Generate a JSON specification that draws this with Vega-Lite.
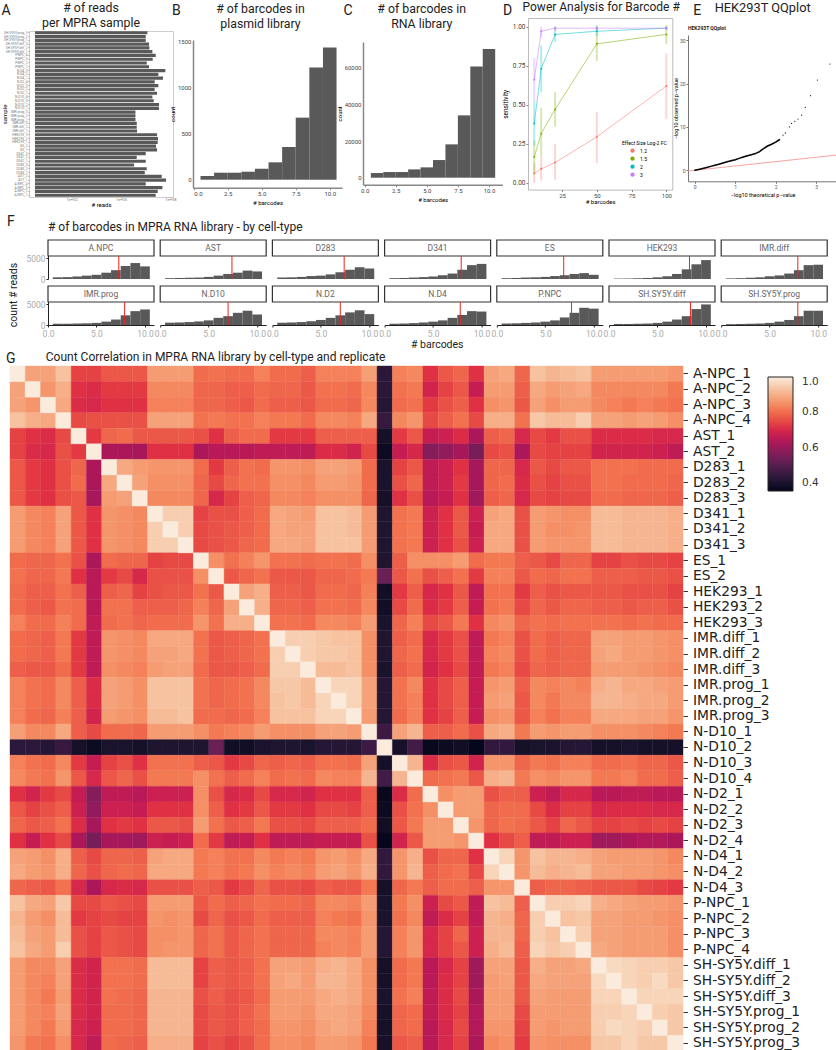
{"$schema":"https://vega.github.io/schema/vega-lite/v6.json","padding":0,"background":"white","spacing":0,"bounds":"flush",
"config":{"view":{"stroke":null},"font":"Roboto","title":{"font":"Roboto","fontWeight":"normal","fontSize":12.3,"color":"#222","lineHeight":15},"axis":{"labelFont":"Roboto","titleFont":"Roboto","titleFontWeight":"normal","grid":false}},
"datasets":{
"reads":[{"s":"SH.SY5Y.prog_3","r":4040000},{"s":"SH.SY5Y.prog_2","r":3200000},{"s":"SH.SY5Y.prog_1","r":3200000},{"s":"SH.SY5Y.diff_3","r":5090000},{"s":"SH.SY5Y.diff_2","r":5330000},{"s":"SH.SY5Y.diff_1","r":8100000},{"s":"P.NPC_4","r":12900000},{"s":"P.NPC_3","r":8500000},{"s":"P.NPC_2","r":3680000},{"s":"P.NPC_1","r":5090000},{"s":"N.D4_3","r":49800000},{"s":"N.D4_2","r":18700000},{"s":"N.D4_1","r":36000000},{"s":"N.D2_4","r":11200000},{"s":"N.D2_3","r":18700000},{"s":"N.D2_2","r":11200000},{"s":"N.D2_1","r":15600000},{"s":"N.D10_4","r":8100000},{"s":"N.D10_3","r":9800000},{"s":"N.D10_2","r":20600000},{"s":"N.D10_1","r":20600000},{"s":"IMR.prog_3","r":760000},{"s":"IMR.prog_2","r":760000},{"s":"IMR.prog_1","r":760000},{"s":"IMR.diff_3","r":910000},{"s":"IMR.diff_2","r":910000},{"s":"IMR.diff_1","r":950000},{"s":"HEK293_3","r":15600000},{"s":"HEK293_2","r":17900000},{"s":"HEK293_1","r":17100000},{"s":"ES_2","r":13500000},{"s":"ES_1","r":15600000},{"s":"D341_3","r":3200000},{"s":"D341_2","r":910000},{"s":"D341_1","r":3200000},{"s":"D283_3","r":630000},{"s":"D283_2","r":3680000},{"s":"D283_1","r":2800000},{"s":"AST_2","r":30000000},{"s":"AST_1","r":55000000},{"s":"A.NPC_4","r":3200000},{"s":"A.NPC_3","r":33000000},{"s":"A.NPC_2","r":17100000},{"s":"A.NPC_1","r":12900000}],
"power":[{"b":5,"g":"1.2","m":0.06,"l":0,"h":0.13},{"b":10,"g":"1.2","m":0.09,"l":0.015,"h":0.17},{"b":20,"g":"1.2","m":0.13,"l":0.02,"h":0.25},{"b":50,"g":"1.2","m":0.295,"l":0.125,"h":0.455},{"b":100,"g":"1.2","m":0.62,"l":0.41,"h":0.83},{"b":5,"g":"1.5","m":0.165,"l":0.06,"h":0.27},{"b":10,"g":"1.5","m":0.315,"l":0.17,"h":0.48},{"b":20,"g":"1.5","m":0.47,"l":0.36,"h":0.58},{"b":50,"g":"1.5","m":0.89,"l":0.78,"h":1.01},{"b":100,"g":"1.5","m":0.95,"l":0.89,"h":1.01},{"b":5,"g":"2","m":0.38,"l":0.24,"h":0.52},{"b":10,"g":"2","m":0.73,"l":0.58,"h":0.88},{"b":20,"g":"2","m":0.95,"l":0.9,"h":1},{"b":50,"g":"2","m":0.97,"l":0.94,"h":1},{"b":100,"g":"2","m":0.99,"l":0.98,"h":1},{"b":5,"g":"3","m":0.66,"l":0.52,"h":0.8},{"b":10,"g":"3","m":0.97,"l":0.93,"h":1},{"b":20,"g":"3","m":0.99,"l":0.97,"h":1},{"b":50,"g":"3","m":0.99,"l":0.98,"h":1},{"b":100,"g":"3","m":0.99,"l":0.98,"h":1}],
"qq":[{"x":0,"y":0},{"x":0.1,"y":0.2},{"x":0.2,"y":0.42},{"x":0.3,"y":0.65},{"x":0.4,"y":0.9},{"x":0.5,"y":1.15},{"x":0.6,"y":1.4},{"x":0.7,"y":1.7},{"x":0.8,"y":1.95},{"x":0.9,"y":2.2},{"x":1,"y":2.45},{"x":1.1,"y":2.75},{"x":1.2,"y":3.05},{"x":1.3,"y":3.35},{"x":1.4,"y":3.6},{"x":1.5,"y":3.85},{"x":1.6,"y":4.3},{"x":1.7,"y":5},{"x":1.8,"y":5.6},{"x":1.9,"y":6},{"x":2,"y":6.5},{"x":2.1,"y":7.1},{"x":2.18,"y":8.1},{"x":2.24,"y":8.6},{"x":2.34,"y":10},{"x":2.39,"y":10.8},{"x":2.47,"y":11.3},{"x":2.55,"y":11.8},{"x":2.64,"y":12.7},{"x":2.73,"y":14.5},{"x":2.86,"y":17.2},{"x":3.03,"y":20.8},{"x":3.34,"y":24.5}],
"heat":[{"a":0,"b":0,"v":1},{"a":0,"b":1,"v":0.88},{"a":0,"b":2,"v":0.88},{"a":0,"b":3,"v":0.93},{"a":0,"b":4,"v":0.74},{"a":0,"b":5,"v":0.74},{"a":0,"b":6,"v":0.77},{"a":0,"b":7,"v":0.77},{"a":0,"b":8,"v":0.77},{"a":0,"b":9,"v":0.87},{"a":0,"b":10,"v":0.87},{"a":0,"b":11,"v":0.87},{"a":0,"b":12,"v":0.8},{"a":0,"b":13,"v":0.81},{"a":0,"b":14,"v":0.8},{"a":0,"b":15,"v":0.8},{"a":0,"b":16,"v":0.83},{"a":0,"b":17,"v":0.8},{"a":0,"b":18,"v":0.8},{"a":0,"b":19,"v":0.78},{"a":0,"b":20,"v":0.83},{"a":0,"b":21,"v":0.83},{"a":0,"b":22,"v":0.83},{"a":0,"b":23,"v":0.875},{"a":0,"b":24,"v":0.43},{"a":0,"b":25,"v":0.83},{"a":0,"b":26,"v":0.84},{"a":0,"b":27,"v":0.72},{"a":0,"b":28,"v":0.77},{"a":0,"b":29,"v":0.79},{"a":0,"b":30,"v":0.72},{"a":0,"b":31,"v":0.88},{"a":0,"b":32,"v":0.89},{"a":0,"b":33,"v":0.79},{"a":0,"b":34,"v":0.93},{"a":0,"b":35,"v":0.91},{"a":0,"b":36,"v":0.92},{"a":0,"b":37,"v":0.93},{"a":0,"b":38,"v":0.87},{"a":0,"b":39,"v":0.87},{"a":0,"b":40,"v":0.87},{"a":0,"b":41,"v":0.87},{"a":0,"b":42,"v":0.87},{"a":0,"b":43,"v":0.86},
{"a":1,"b":1,"v":1},{"a":1,"b":2,"v":0.86},{"a":1,"b":3,"v":0.9},{"a":1,"b":4,"v":0.72},{"a":1,"b":5,"v":0.71},{"a":1,"b":6,"v":0.73},{"a":1,"b":7,"v":0.73},{"a":1,"b":8,"v":0.73},{"a":1,"b":9,"v":0.84},{"a":1,"b":10,"v":0.84},{"a":1,"b":11,"v":0.84},{"a":1,"b":12,"v":0.79},{"a":1,"b":13,"v":0.79},{"a":1,"b":14,"v":0.78},{"a":1,"b":15,"v":0.78},{"a":1,"b":16,"v":0.8},{"a":1,"b":17,"v":0.79},{"a":1,"b":18,"v":0.79},{"a":1,"b":19,"v":0.77},{"a":1,"b":20,"v":0.81},{"a":1,"b":21,"v":0.81},{"a":1,"b":22,"v":0.8},{"a":1,"b":23,"v":0.84},{"a":1,"b":24,"v":0.43},{"a":1,"b":25,"v":0.81},{"a":1,"b":26,"v":0.82},{"a":1,"b":27,"v":0.69},{"a":1,"b":28,"v":0.74},{"a":1,"b":29,"v":0.77},{"a":1,"b":30,"v":0.67},{"a":1,"b":31,"v":0.87},{"a":1,"b":32,"v":0.87},{"a":1,"b":33,"v":0.78},{"a":1,"b":34,"v":0.89},{"a":1,"b":35,"v":0.87},{"a":1,"b":36,"v":0.88},{"a":1,"b":37,"v":0.89},{"a":1,"b":38,"v":0.84},{"a":1,"b":39,"v":0.84},{"a":1,"b":40,"v":0.84},{"a":1,"b":41,"v":0.84},{"a":1,"b":42,"v":0.84},{"a":1,"b":43,"v":0.82},
{"a":2,"b":2,"v":1},{"a":2,"b":3,"v":0.89},{"a":2,"b":4,"v":0.71},{"a":2,"b":5,"v":0.7},{"a":2,"b":6,"v":0.72},{"a":2,"b":7,"v":0.72},{"a":2,"b":8,"v":0.72},{"a":2,"b":9,"v":0.83},{"a":2,"b":10,"v":0.83},{"a":2,"b":11,"v":0.83},{"a":2,"b":12,"v":0.79},{"a":2,"b":13,"v":0.79},{"a":2,"b":14,"v":0.78},{"a":2,"b":15,"v":0.77},{"a":2,"b":16,"v":0.8},{"a":2,"b":17,"v":0.78},{"a":2,"b":18,"v":0.78},{"a":2,"b":19,"v":0.77},{"a":2,"b":20,"v":0.8},{"a":2,"b":21,"v":0.8},{"a":2,"b":22,"v":0.79},{"a":2,"b":23,"v":0.84},{"a":2,"b":24,"v":0.42},{"a":2,"b":25,"v":0.8},{"a":2,"b":26,"v":0.81},{"a":2,"b":27,"v":0.73},{"a":2,"b":28,"v":0.76},{"a":2,"b":29,"v":0.78},{"a":2,"b":30,"v":0.72},{"a":2,"b":31,"v":0.85},{"a":2,"b":32,"v":0.86},{"a":2,"b":33,"v":0.77},{"a":2,"b":34,"v":0.88},{"a":2,"b":35,"v":0.85},{"a":2,"b":36,"v":0.87},{"a":2,"b":37,"v":0.87},{"a":2,"b":38,"v":0.84},{"a":2,"b":39,"v":0.83},{"a":2,"b":40,"v":0.82},{"a":2,"b":41,"v":0.83},{"a":2,"b":42,"v":0.82},{"a":2,"b":43,"v":0.81},
{"a":3,"b":3,"v":1},{"a":3,"b":4,"v":0.75},{"a":3,"b":5,"v":0.76},{"a":3,"b":6,"v":0.76},{"a":3,"b":7,"v":0.76},{"a":3,"b":8,"v":0.76},{"a":3,"b":9,"v":0.88},{"a":3,"b":10,"v":0.88},{"a":3,"b":11,"v":0.88},{"a":3,"b":12,"v":0.81},{"a":3,"b":13,"v":0.82},{"a":3,"b":14,"v":0.81},{"a":3,"b":15,"v":0.81},{"a":3,"b":16,"v":0.83},{"a":3,"b":17,"v":0.82},{"a":3,"b":18,"v":0.82},{"a":3,"b":19,"v":0.8},{"a":3,"b":20,"v":0.84},{"a":3,"b":21,"v":0.84},{"a":3,"b":22,"v":0.83},{"a":3,"b":23,"v":0.89},{"a":3,"b":24,"v":0.45},{"a":3,"b":25,"v":0.84},{"a":3,"b":26,"v":0.86},{"a":3,"b":27,"v":0.75},{"a":3,"b":28,"v":0.78},{"a":3,"b":29,"v":0.81},{"a":3,"b":30,"v":0.75},{"a":3,"b":31,"v":0.9},{"a":3,"b":32,"v":0.9},{"a":3,"b":33,"v":0.81},{"a":3,"b":34,"v":0.94},{"a":3,"b":35,"v":0.92},{"a":3,"b":36,"v":0.92},{"a":3,"b":37,"v":0.95},{"a":3,"b":38,"v":0.88},{"a":3,"b":39,"v":0.88},{"a":3,"b":40,"v":0.87},{"a":3,"b":41,"v":0.88},{"a":3,"b":42,"v":0.87},{"a":3,"b":43,"v":0.85},
{"a":4,"b":4,"v":1},{"a":4,"b":5,"v":0.73},{"a":4,"b":6,"v":0.79},{"a":4,"b":7,"v":0.8},{"a":4,"b":8,"v":0.77},{"a":4,"b":9,"v":0.77},{"a":4,"b":10,"v":0.77},{"a":4,"b":11,"v":0.77},{"a":4,"b":12,"v":0.76},{"a":4,"b":13,"v":0.72},{"a":4,"b":14,"v":0.78},{"a":4,"b":15,"v":0.8},{"a":4,"b":16,"v":0.8},{"a":4,"b":17,"v":0.73},{"a":4,"b":18,"v":0.73},{"a":4,"b":19,"v":0.73},{"a":4,"b":20,"v":0.78},{"a":4,"b":21,"v":0.78},{"a":4,"b":22,"v":0.78},{"a":4,"b":23,"v":0.78},{"a":4,"b":24,"v":0.39},{"a":4,"b":25,"v":0.73},{"a":4,"b":26,"v":0.77},{"a":4,"b":27,"v":0.67},{"a":4,"b":28,"v":0.68},{"a":4,"b":29,"v":0.71},{"a":4,"b":30,"v":0.63},{"a":4,"b":31,"v":0.78},{"a":4,"b":32,"v":0.79},{"a":4,"b":33,"v":0.7},{"a":4,"b":34,"v":0.75},{"a":4,"b":35,"v":0.73},{"a":4,"b":36,"v":0.76},{"a":4,"b":37,"v":0.76},{"a":4,"b":38,"v":0.71},{"a":4,"b":39,"v":0.71},{"a":4,"b":40,"v":0.71},{"a":4,"b":41,"v":0.71},{"a":4,"b":42,"v":0.7},{"a":4,"b":43,"v":0.7},
{"a":5,"b":5,"v":1},{"a":5,"b":6,"v":0.63},{"a":5,"b":7,"v":0.63},{"a":5,"b":8,"v":0.62},{"a":5,"b":9,"v":0.72},{"a":5,"b":10,"v":0.72},{"a":5,"b":11,"v":0.72},{"a":5,"b":12,"v":0.63},{"a":5,"b":13,"v":0.65},{"a":5,"b":14,"v":0.65},{"a":5,"b":15,"v":0.65},{"a":5,"b":16,"v":0.66},{"a":5,"b":17,"v":0.66},{"a":5,"b":18,"v":0.66},{"a":5,"b":19,"v":0.66},{"a":5,"b":20,"v":0.71},{"a":5,"b":21,"v":0.71},{"a":5,"b":22,"v":0.69},{"a":5,"b":23,"v":0.75},{"a":5,"b":24,"v":0.37},{"a":5,"b":25,"v":0.67},{"a":5,"b":26,"v":0.7},{"a":5,"b":27,"v":0.57},{"a":5,"b":28,"v":0.59},{"a":5,"b":29,"v":0.62},{"a":5,"b":30,"v":0.55},{"a":5,"b":31,"v":0.75},{"a":5,"b":32,"v":0.76},{"a":5,"b":33,"v":0.63},{"a":5,"b":34,"v":0.75},{"a":5,"b":35,"v":0.74},{"a":5,"b":36,"v":0.74},{"a":5,"b":37,"v":0.74},{"a":5,"b":38,"v":0.69},{"a":5,"b":39,"v":0.69},{"a":5,"b":40,"v":0.69},{"a":5,"b":41,"v":0.69},{"a":5,"b":42,"v":0.68},{"a":5,"b":43,"v":0.66},
{"a":6,"b":6,"v":1},{"a":6,"b":7,"v":0.89},{"a":6,"b":8,"v":0.87},{"a":6,"b":9,"v":0.86},{"a":6,"b":10,"v":0.86},{"a":6,"b":11,"v":0.86},{"a":6,"b":12,"v":0.8},{"a":6,"b":13,"v":0.73},{"a":6,"b":14,"v":0.78},{"a":6,"b":15,"v":0.81},{"a":6,"b":16,"v":0.8},{"a":6,"b":17,"v":0.86},{"a":6,"b":18,"v":0.86},{"a":6,"b":19,"v":0.85},{"a":6,"b":20,"v":0.88},{"a":6,"b":21,"v":0.88},{"a":6,"b":22,"v":0.87},{"a":6,"b":23,"v":0.8},{"a":6,"b":24,"v":0.4},{"a":6,"b":25,"v":0.74},{"a":6,"b":26,"v":0.77},{"a":6,"b":27,"v":0.66},{"a":6,"b":28,"v":0.68},{"a":6,"b":29,"v":0.72},{"a":6,"b":30,"v":0.62},{"a":6,"b":31,"v":0.79},{"a":6,"b":32,"v":0.79},{"a":6,"b":33,"v":0.7},{"a":6,"b":34,"v":0.77},{"a":6,"b":35,"v":0.75},{"a":6,"b":36,"v":0.77},{"a":6,"b":37,"v":0.77},{"a":6,"b":38,"v":0.81},{"a":6,"b":39,"v":0.81},{"a":6,"b":40,"v":0.81},{"a":6,"b":41,"v":0.8},{"a":6,"b":42,"v":0.8},{"a":6,"b":43,"v":0.8},
{"a":7,"b":7,"v":1},{"a":7,"b":8,"v":0.88},{"a":7,"b":9,"v":0.85},{"a":7,"b":10,"v":0.85},{"a":7,"b":11,"v":0.85},{"a":7,"b":12,"v":0.79},{"a":7,"b":13,"v":0.75},{"a":7,"b":14,"v":0.79},{"a":7,"b":15,"v":0.81},{"a":7,"b":16,"v":0.81},{"a":7,"b":17,"v":0.85},{"a":7,"b":18,"v":0.85},{"a":7,"b":19,"v":0.84},{"a":7,"b":20,"v":0.87},{"a":7,"b":21,"v":0.87},{"a":7,"b":22,"v":0.86},{"a":7,"b":23,"v":0.8},{"a":7,"b":24,"v":0.4},{"a":7,"b":25,"v":0.76},{"a":7,"b":26,"v":0.79},{"a":7,"b":27,"v":0.66},{"a":7,"b":28,"v":0.68},{"a":7,"b":29,"v":0.73},{"a":7,"b":30,"v":0.62},{"a":7,"b":31,"v":0.79},{"a":7,"b":32,"v":0.8},{"a":7,"b":33,"v":0.71},{"a":7,"b":34,"v":0.76},{"a":7,"b":35,"v":0.74},{"a":7,"b":36,"v":0.76},{"a":7,"b":37,"v":0.76},{"a":7,"b":38,"v":0.81},{"a":7,"b":39,"v":0.81},{"a":7,"b":40,"v":0.8},{"a":7,"b":41,"v":0.8},{"a":7,"b":42,"v":0.8},{"a":7,"b":43,"v":0.79},
{"a":8,"b":8,"v":1},{"a":8,"b":9,"v":0.84},{"a":8,"b":10,"v":0.84},{"a":8,"b":11,"v":0.84},{"a":8,"b":12,"v":0.79},{"a":8,"b":13,"v":0.7},{"a":8,"b":14,"v":0.74},{"a":8,"b":15,"v":0.78},{"a":8,"b":16,"v":0.79},{"a":8,"b":17,"v":0.84},{"a":8,"b":18,"v":0.84},{"a":8,"b":19,"v":0.83},{"a":8,"b":20,"v":0.85},{"a":8,"b":21,"v":0.85},{"a":8,"b":22,"v":0.85},{"a":8,"b":23,"v":0.79},{"a":8,"b":24,"v":0.39},{"a":8,"b":25,"v":0.72},{"a":8,"b":26,"v":0.76},{"a":8,"b":27,"v":0.65},{"a":8,"b":28,"v":0.67},{"a":8,"b":29,"v":0.72},{"a":8,"b":30,"v":0.61},{"a":8,"b":31,"v":0.78},{"a":8,"b":32,"v":0.79},{"a":8,"b":33,"v":0.7},{"a":8,"b":34,"v":0.75},{"a":8,"b":35,"v":0.74},{"a":8,"b":36,"v":0.75},{"a":8,"b":37,"v":0.75},{"a":8,"b":38,"v":0.8},{"a":8,"b":39,"v":0.8},{"a":8,"b":40,"v":0.79},{"a":8,"b":41,"v":0.79},{"a":8,"b":42,"v":0.79},{"a":8,"b":43,"v":0.78},
{"a":9,"b":9,"v":1},{"a":9,"b":10,"v":0.95},{"a":9,"b":11,"v":0.95},{"a":9,"b":12,"v":0.74},{"a":9,"b":13,"v":0.76},{"a":9,"b":14,"v":0.76},{"a":9,"b":15,"v":0.78},{"a":9,"b":16,"v":0.8},{"a":9,"b":17,"v":0.89},{"a":9,"b":18,"v":0.88},{"a":9,"b":19,"v":0.87},{"a":9,"b":20,"v":0.93},{"a":9,"b":21,"v":0.93},{"a":9,"b":22,"v":0.92},{"a":9,"b":23,"v":0.87},{"a":9,"b":24,"v":0.41},{"a":9,"b":25,"v":0.81},{"a":9,"b":26,"v":0.82},{"a":9,"b":27,"v":0.68},{"a":9,"b":28,"v":0.72},{"a":9,"b":29,"v":0.77},{"a":9,"b":30,"v":0.68},{"a":9,"b":31,"v":0.88},{"a":9,"b":32,"v":0.89},{"a":9,"b":33,"v":0.76},{"a":9,"b":34,"v":0.87},{"a":9,"b":35,"v":0.86},{"a":9,"b":36,"v":0.85},{"a":9,"b":37,"v":0.85},{"a":9,"b":38,"v":0.92},{"a":9,"b":39,"v":0.92},{"a":9,"b":40,"v":0.91},{"a":9,"b":41,"v":0.91},{"a":9,"b":42,"v":0.91},{"a":9,"b":43,"v":0.9},
{"a":10,"b":10,"v":1},{"a":10,"b":11,"v":0.95},{"a":10,"b":12,"v":0.75},{"a":10,"b":13,"v":0.76},{"a":10,"b":14,"v":0.77},{"a":10,"b":15,"v":0.78},{"a":10,"b":16,"v":0.8},{"a":10,"b":17,"v":0.89},{"a":10,"b":18,"v":0.88},{"a":10,"b":19,"v":0.88},{"a":10,"b":20,"v":0.93},{"a":10,"b":21,"v":0.93},{"a":10,"b":22,"v":0.92},{"a":10,"b":23,"v":0.87},{"a":10,"b":24,"v":0.41},{"a":10,"b":25,"v":0.81},{"a":10,"b":26,"v":0.82},{"a":10,"b":27,"v":0.68},{"a":10,"b":28,"v":0.72},{"a":10,"b":29,"v":0.77},{"a":10,"b":30,"v":0.67},{"a":10,"b":31,"v":0.89},{"a":10,"b":32,"v":0.89},{"a":10,"b":33,"v":0.76},{"a":10,"b":34,"v":0.87},{"a":10,"b":35,"v":0.85},{"a":10,"b":36,"v":0.85},{"a":10,"b":37,"v":0.86},{"a":10,"b":38,"v":0.92},{"a":10,"b":39,"v":0.92},{"a":10,"b":40,"v":0.91},{"a":10,"b":41,"v":0.91},{"a":10,"b":42,"v":0.91},{"a":10,"b":43,"v":0.9},
{"a":11,"b":11,"v":1},{"a":11,"b":12,"v":0.75},{"a":11,"b":13,"v":0.76},{"a":11,"b":14,"v":0.77},{"a":11,"b":15,"v":0.79},{"a":11,"b":16,"v":0.8},{"a":11,"b":17,"v":0.89},{"a":11,"b":18,"v":0.89},{"a":11,"b":19,"v":0.88},{"a":11,"b":20,"v":0.93},{"a":11,"b":21,"v":0.93},{"a":11,"b":22,"v":0.93},{"a":11,"b":23,"v":0.87},{"a":11,"b":24,"v":0.41},{"a":11,"b":25,"v":0.81},{"a":11,"b":26,"v":0.82},{"a":11,"b":27,"v":0.68},{"a":11,"b":28,"v":0.72},{"a":11,"b":29,"v":0.76},{"a":11,"b":30,"v":0.68},{"a":11,"b":31,"v":0.89},{"a":11,"b":32,"v":0.89},{"a":11,"b":33,"v":0.76},{"a":11,"b":34,"v":0.87},{"a":11,"b":35,"v":0.86},{"a":11,"b":36,"v":0.86},{"a":11,"b":37,"v":0.86},{"a":11,"b":38,"v":0.92},{"a":11,"b":39,"v":0.92},{"a":11,"b":40,"v":0.91},{"a":11,"b":41,"v":0.91},{"a":11,"b":42,"v":0.91},{"a":11,"b":43,"v":0.9},
{"a":12,"b":12,"v":1},{"a":12,"b":13,"v":0.85},{"a":12,"b":14,"v":0.81},{"a":12,"b":15,"v":0.83},{"a":12,"b":16,"v":0.86},{"a":12,"b":17,"v":0.81},{"a":12,"b":18,"v":0.81},{"a":12,"b":19,"v":0.8},{"a":12,"b":20,"v":0.81},{"a":12,"b":21,"v":0.81},{"a":12,"b":22,"v":0.8},{"a":12,"b":23,"v":0.85},{"a":12,"b":24,"v":0.41},{"a":12,"b":25,"v":0.78},{"a":12,"b":26,"v":0.85},{"a":12,"b":27,"v":0.85},{"a":12,"b":28,"v":0.85},{"a":12,"b":29,"v":0.87},{"a":12,"b":30,"v":0.8},{"a":12,"b":31,"v":0.82},{"a":12,"b":32,"v":0.82},{"a":12,"b":33,"v":0.78},{"a":12,"b":34,"v":0.77},{"a":12,"b":35,"v":0.75},{"a":12,"b":36,"v":0.79},{"a":12,"b":37,"v":0.79},{"a":12,"b":38,"v":0.74},{"a":12,"b":39,"v":0.74},{"a":12,"b":40,"v":0.76},{"a":12,"b":41,"v":0.75},{"a":12,"b":42,"v":0.75},{"a":12,"b":43,"v":0.74},
{"a":13,"b":13,"v":1},{"a":13,"b":14,"v":0.77},{"a":13,"b":15,"v":0.79},{"a":13,"b":16,"v":0.81},{"a":13,"b":17,"v":0.77},{"a":13,"b":18,"v":0.77},{"a":13,"b":19,"v":0.77},{"a":13,"b":20,"v":0.79},{"a":13,"b":21,"v":0.79},{"a":13,"b":22,"v":0.8},{"a":13,"b":23,"v":0.82},{"a":13,"b":24,"v":0.53},{"a":13,"b":25,"v":0.77},{"a":13,"b":26,"v":0.81},{"a":13,"b":27,"v":0.76},{"a":13,"b":28,"v":0.78},{"a":13,"b":29,"v":0.81},{"a":13,"b":30,"v":0.73},{"a":13,"b":31,"v":0.83},{"a":13,"b":32,"v":0.83},{"a":13,"b":33,"v":0.77},{"a":13,"b":34,"v":0.8},{"a":13,"b":35,"v":0.79},{"a":13,"b":36,"v":0.81},{"a":13,"b":37,"v":0.81},{"a":13,"b":38,"v":0.78},{"a":13,"b":39,"v":0.78},{"a":13,"b":40,"v":0.78},{"a":13,"b":41,"v":0.77},{"a":13,"b":42,"v":0.77},{"a":13,"b":43,"v":0.76},
{"a":14,"b":14,"v":1},{"a":14,"b":15,"v":0.88},{"a":14,"b":16,"v":0.9},{"a":14,"b":17,"v":0.78},{"a":14,"b":18,"v":0.78},{"a":14,"b":19,"v":0.77},{"a":14,"b":20,"v":0.8},{"a":14,"b":21,"v":0.8},{"a":14,"b":22,"v":0.79},{"a":14,"b":23,"v":0.83},{"a":14,"b":24,"v":0.38},{"a":14,"b":25,"v":0.73},{"a":14,"b":26,"v":0.78},{"a":14,"b":27,"v":0.7},{"a":14,"b":28,"v":0.72},{"a":14,"b":29,"v":0.77},{"a":14,"b":30,"v":0.66},{"a":14,"b":31,"v":0.81},{"a":14,"b":32,"v":0.81},{"a":14,"b":33,"v":0.73},{"a":14,"b":34,"v":0.78},{"a":14,"b":35,"v":0.76},{"a":14,"b":36,"v":0.77},{"a":14,"b":37,"v":0.77},{"a":14,"b":38,"v":0.77},{"a":14,"b":39,"v":0.77},{"a":14,"b":40,"v":0.76},{"a":14,"b":41,"v":0.76},{"a":14,"b":42,"v":0.76},{"a":14,"b":43,"v":0.74},
{"a":15,"b":15,"v":1},{"a":15,"b":16,"v":0.9},{"a":15,"b":17,"v":0.79},{"a":15,"b":18,"v":0.79},{"a":15,"b":19,"v":0.78},{"a":15,"b":20,"v":0.81},{"a":15,"b":21,"v":0.81},{"a":15,"b":22,"v":0.8},{"a":15,"b":23,"v":0.84},{"a":15,"b":24,"v":0.38},{"a":15,"b":25,"v":0.75},{"a":15,"b":26,"v":0.8},{"a":15,"b":27,"v":0.71},{"a":15,"b":28,"v":0.73},{"a":15,"b":29,"v":0.78},{"a":15,"b":30,"v":0.67},{"a":15,"b":31,"v":0.81},{"a":15,"b":32,"v":0.82},{"a":15,"b":33,"v":0.75},{"a":15,"b":34,"v":0.79},{"a":15,"b":35,"v":0.77},{"a":15,"b":36,"v":0.79},{"a":15,"b":37,"v":0.79},{"a":15,"b":38,"v":0.78},{"a":15,"b":39,"v":0.78},{"a":15,"b":40,"v":0.77},{"a":15,"b":41,"v":0.78},{"a":15,"b":42,"v":0.78},{"a":15,"b":43,"v":0.76},
{"a":16,"b":16,"v":1},{"a":16,"b":17,"v":0.81},{"a":16,"b":18,"v":0.81},{"a":16,"b":19,"v":0.8},{"a":16,"b":20,"v":0.84},{"a":16,"b":21,"v":0.84},{"a":16,"b":22,"v":0.83},{"a":16,"b":23,"v":0.87},{"a":16,"b":24,"v":0.4},{"a":16,"b":25,"v":0.79},{"a":16,"b":26,"v":0.83},{"a":16,"b":27,"v":0.75},{"a":16,"b":28,"v":0.77},{"a":16,"b":29,"v":0.82},{"a":16,"b":30,"v":0.72},{"a":16,"b":31,"v":0.84},{"a":16,"b":32,"v":0.85},{"a":16,"b":33,"v":0.79},{"a":16,"b":34,"v":0.81},{"a":16,"b":35,"v":0.8},{"a":16,"b":36,"v":0.81},{"a":16,"b":37,"v":0.81},{"a":16,"b":38,"v":0.81},{"a":16,"b":39,"v":0.81},{"a":16,"b":40,"v":0.8},{"a":16,"b":41,"v":0.81},{"a":16,"b":42,"v":0.8},{"a":16,"b":43,"v":0.8},
{"a":17,"b":17,"v":1},{"a":17,"b":18,"v":0.95},{"a":17,"b":19,"v":0.95},{"a":17,"b":20,"v":0.94},{"a":17,"b":21,"v":0.93},{"a":17,"b":22,"v":0.93},{"a":17,"b":23,"v":0.85},{"a":17,"b":24,"v":0.41},{"a":17,"b":25,"v":0.78},{"a":17,"b":26,"v":0.8},{"a":17,"b":27,"v":0.7},{"a":17,"b":28,"v":0.73},{"a":17,"b":29,"v":0.76},{"a":17,"b":30,"v":0.66},{"a":17,"b":31,"v":0.82},{"a":17,"b":32,"v":0.83},{"a":17,"b":33,"v":0.76},{"a":17,"b":34,"v":0.8},{"a":17,"b":35,"v":0.78},{"a":17,"b":36,"v":0.79},{"a":17,"b":37,"v":0.79},{"a":17,"b":38,"v":0.88},{"a":17,"b":39,"v":0.88},{"a":17,"b":40,"v":0.87},{"a":17,"b":41,"v":0.87},{"a":17,"b":42,"v":0.86},{"a":17,"b":43,"v":0.85},
{"a":18,"b":18,"v":1},{"a":18,"b":19,"v":0.95},{"a":18,"b":20,"v":0.94},{"a":18,"b":21,"v":0.94},{"a":18,"b":22,"v":0.93},{"a":18,"b":23,"v":0.85},{"a":18,"b":24,"v":0.41},{"a":18,"b":25,"v":0.79},{"a":18,"b":26,"v":0.81},{"a":18,"b":27,"v":0.7},{"a":18,"b":28,"v":0.73},{"a":18,"b":29,"v":0.76},{"a":18,"b":30,"v":0.66},{"a":18,"b":31,"v":0.83},{"a":18,"b":32,"v":0.84},{"a":18,"b":33,"v":0.76},{"a":18,"b":34,"v":0.8},{"a":18,"b":35,"v":0.78},{"a":18,"b":36,"v":0.79},{"a":18,"b":37,"v":0.79},{"a":18,"b":38,"v":0.88},{"a":18,"b":39,"v":0.89},{"a":18,"b":40,"v":0.87},{"a":18,"b":41,"v":0.87},{"a":18,"b":42,"v":0.86},{"a":18,"b":43,"v":0.85},
{"a":19,"b":19,"v":1},{"a":19,"b":20,"v":0.92},{"a":19,"b":21,"v":0.92},{"a":19,"b":22,"v":0.93},{"a":19,"b":23,"v":0.85},{"a":19,"b":24,"v":0.4},{"a":19,"b":25,"v":0.78},{"a":19,"b":26,"v":0.8},{"a":19,"b":27,"v":0.69},{"a":19,"b":28,"v":0.72},{"a":19,"b":29,"v":0.75},{"a":19,"b":30,"v":0.66},{"a":19,"b":31,"v":0.82},{"a":19,"b":32,"v":0.83},{"a":19,"b":33,"v":0.75},{"a":19,"b":34,"v":0.79},{"a":19,"b":35,"v":0.78},{"a":19,"b":36,"v":0.79},{"a":19,"b":37,"v":0.79},{"a":19,"b":38,"v":0.87},{"a":19,"b":39,"v":0.87},{"a":19,"b":40,"v":0.87},{"a":19,"b":41,"v":0.86},{"a":19,"b":42,"v":0.85},{"a":19,"b":43,"v":0.84},
{"a":20,"b":20,"v":1},{"a":20,"b":21,"v":0.96},{"a":20,"b":22,"v":0.96},{"a":20,"b":23,"v":0.88},{"a":20,"b":24,"v":0.42},{"a":20,"b":25,"v":0.81},{"a":20,"b":26,"v":0.84},{"a":20,"b":27,"v":0.72},{"a":20,"b":28,"v":0.75},{"a":20,"b":29,"v":0.78},{"a":20,"b":30,"v":0.67},{"a":20,"b":31,"v":0.86},{"a":20,"b":32,"v":0.87},{"a":20,"b":33,"v":0.78},{"a":20,"b":34,"v":0.84},{"a":20,"b":35,"v":0.83},{"a":20,"b":36,"v":0.84},{"a":20,"b":37,"v":0.83},{"a":20,"b":38,"v":0.9},{"a":20,"b":39,"v":0.91},{"a":20,"b":40,"v":0.89},{"a":20,"b":41,"v":0.89},{"a":20,"b":42,"v":0.88},{"a":20,"b":43,"v":0.87},
{"a":21,"b":21,"v":1},{"a":21,"b":22,"v":0.96},{"a":21,"b":23,"v":0.88},{"a":21,"b":24,"v":0.42},{"a":21,"b":25,"v":0.81},{"a":21,"b":26,"v":0.83},{"a":21,"b":27,"v":0.72},{"a":21,"b":28,"v":0.75},{"a":21,"b":29,"v":0.78},{"a":21,"b":30,"v":0.67},{"a":21,"b":31,"v":0.87},{"a":21,"b":32,"v":0.88},{"a":21,"b":33,"v":0.77},{"a":21,"b":34,"v":0.84},{"a":21,"b":35,"v":0.82},{"a":21,"b":36,"v":0.84},{"a":21,"b":37,"v":0.84},{"a":21,"b":38,"v":0.91},{"a":21,"b":39,"v":0.91},{"a":21,"b":40,"v":0.9},{"a":21,"b":41,"v":0.89},{"a":21,"b":42,"v":0.89},{"a":21,"b":43,"v":0.87},
{"a":22,"b":22,"v":1},{"a":22,"b":23,"v":0.87},{"a":22,"b":24,"v":0.42},{"a":22,"b":25,"v":0.8},{"a":22,"b":26,"v":0.83},{"a":22,"b":27,"v":0.72},{"a":22,"b":28,"v":0.74},{"a":22,"b":29,"v":0.78},{"a":22,"b":30,"v":0.67},{"a":22,"b":31,"v":0.85},{"a":22,"b":32,"v":0.86},{"a":22,"b":33,"v":0.77},{"a":22,"b":34,"v":0.83},{"a":22,"b":35,"v":0.81},{"a":22,"b":36,"v":0.83},{"a":22,"b":37,"v":0.83},{"a":22,"b":38,"v":0.89},{"a":22,"b":39,"v":0.89},{"a":22,"b":40,"v":0.89},{"a":22,"b":41,"v":0.88},{"a":22,"b":42,"v":0.88},{"a":22,"b":43,"v":0.86},
{"a":23,"b":23,"v":1},{"a":23,"b":24,"v":0.46},{"a":23,"b":25,"v":0.88},{"a":23,"b":26,"v":0.91},{"a":23,"b":27,"v":0.78},{"a":23,"b":28,"v":0.78},{"a":23,"b":29,"v":0.8},{"a":23,"b":30,"v":0.76},{"a":23,"b":31,"v":0.89},{"a":23,"b":32,"v":0.9},{"a":23,"b":33,"v":0.82},{"a":23,"b":34,"v":0.87},{"a":23,"b":35,"v":0.86},{"a":23,"b":36,"v":0.87},{"a":23,"b":37,"v":0.87},{"a":23,"b":38,"v":0.85},{"a":23,"b":39,"v":0.85},{"a":23,"b":40,"v":0.85},{"a":23,"b":41,"v":0.84},{"a":23,"b":42,"v":0.83},{"a":23,"b":43,"v":0.82},
{"a":24,"b":24,"v":1},{"a":24,"b":25,"v":0.39},{"a":24,"b":26,"v":0.47},{"a":24,"b":27,"v":0.365},{"a":24,"b":28,"v":0.37},{"a":24,"b":29,"v":0.38},{"a":24,"b":30,"v":0.36},{"a":24,"b":31,"v":0.44},{"a":24,"b":32,"v":0.44},{"a":24,"b":33,"v":0.39},{"a":24,"b":34,"v":0.4},{"a":24,"b":35,"v":0.4},{"a":24,"b":36,"v":0.42},{"a":24,"b":37,"v":0.42},{"a":24,"b":38,"v":0.39},{"a":24,"b":39,"v":0.39},{"a":24,"b":40,"v":0.4},{"a":24,"b":41,"v":0.39},{"a":24,"b":42,"v":0.39},{"a":24,"b":43,"v":0.39},
{"a":25,"b":25,"v":1},{"a":25,"b":26,"v":0.91},{"a":25,"b":27,"v":0.71},{"a":25,"b":28,"v":0.76},{"a":25,"b":29,"v":0.77},{"a":25,"b":30,"v":0.69},{"a":25,"b":31,"v":0.86},{"a":25,"b":32,"v":0.86},{"a":25,"b":33,"v":0.79},{"a":25,"b":34,"v":0.82},{"a":25,"b":35,"v":0.81},{"a":25,"b":36,"v":0.83},{"a":25,"b":37,"v":0.83},{"a":25,"b":38,"v":0.8},{"a":25,"b":39,"v":0.8},{"a":25,"b":40,"v":0.81},{"a":25,"b":41,"v":0.79},{"a":25,"b":42,"v":0.79},{"a":25,"b":43,"v":0.77},
{"a":26,"b":26,"v":1},{"a":26,"b":27,"v":0.8},{"a":26,"b":28,"v":0.81},{"a":26,"b":29,"v":0.82},{"a":26,"b":30,"v":0.77},{"a":26,"b":31,"v":0.9},{"a":26,"b":32,"v":0.91},{"a":26,"b":33,"v":0.82},{"a":26,"b":34,"v":0.85},{"a":26,"b":35,"v":0.84},{"a":26,"b":36,"v":0.86},{"a":26,"b":37,"v":0.86},{"a":26,"b":38,"v":0.82},{"a":26,"b":39,"v":0.82},{"a":26,"b":40,"v":0.83},{"a":26,"b":41,"v":0.8},{"a":26,"b":42,"v":0.8},{"a":26,"b":43,"v":0.78},
{"a":27,"b":27,"v":1},{"a":27,"b":28,"v":0.85},{"a":27,"b":29,"v":0.87},{"a":27,"b":30,"v":0.87},{"a":27,"b":31,"v":0.76},{"a":27,"b":32,"v":0.78},{"a":27,"b":33,"v":0.78},{"a":27,"b":34,"v":0.68},{"a":27,"b":35,"v":0.66},{"a":27,"b":36,"v":0.7},{"a":27,"b":37,"v":0.7},{"a":27,"b":38,"v":0.65},{"a":27,"b":39,"v":0.65},{"a":27,"b":40,"v":0.66},{"a":27,"b":41,"v":0.66},{"a":27,"b":42,"v":0.65},{"a":27,"b":43,"v":0.65},
{"a":28,"b":28,"v":1},{"a":28,"b":29,"v":0.87},{"a":28,"b":30,"v":0.87},{"a":28,"b":31,"v":0.79},{"a":28,"b":32,"v":0.8},{"a":28,"b":33,"v":0.8},{"a":28,"b":34,"v":0.75},{"a":28,"b":35,"v":0.71},{"a":28,"b":36,"v":0.74},{"a":28,"b":37,"v":0.74},{"a":28,"b":38,"v":0.7},{"a":28,"b":39,"v":0.71},{"a":28,"b":40,"v":0.71},{"a":28,"b":41,"v":0.71},{"a":28,"b":42,"v":0.7},{"a":28,"b":43,"v":0.7},
{"a":29,"b":29,"v":1},{"a":29,"b":30,"v":0.86},{"a":29,"b":31,"v":0.79},{"a":29,"b":32,"v":0.81},{"a":29,"b":33,"v":0.8},{"a":29,"b":34,"v":0.77},{"a":29,"b":35,"v":0.74},{"a":29,"b":36,"v":0.79},{"a":29,"b":37,"v":0.77},{"a":29,"b":38,"v":0.74},{"a":29,"b":39,"v":0.74},{"a":29,"b":40,"v":0.75},{"a":29,"b":41,"v":0.74},{"a":29,"b":42,"v":0.75},{"a":29,"b":43,"v":0.74},
{"a":30,"b":30,"v":1},{"a":30,"b":31,"v":0.72},{"a":30,"b":32,"v":0.75},{"a":30,"b":33,"v":0.78},{"a":30,"b":34,"v":0.66},{"a":30,"b":35,"v":0.66},{"a":30,"b":36,"v":0.68},{"a":30,"b":37,"v":0.68},{"a":30,"b":38,"v":0.61},{"a":30,"b":39,"v":0.61},{"a":30,"b":40,"v":0.63},{"a":30,"b":41,"v":0.64},{"a":30,"b":42,"v":0.64},{"a":30,"b":43,"v":0.63},
{"a":31,"b":31,"v":1},{"a":31,"b":32,"v":0.96},{"a":31,"b":33,"v":0.86},{"a":31,"b":34,"v":0.93},{"a":31,"b":35,"v":0.91},{"a":31,"b":36,"v":0.91},{"a":31,"b":37,"v":0.9},{"a":31,"b":38,"v":0.88},{"a":31,"b":39,"v":0.87},{"a":31,"b":40,"v":0.87},{"a":31,"b":41,"v":0.87},{"a":31,"b":42,"v":0.86},{"a":31,"b":43,"v":0.84},
{"a":32,"b":32,"v":1},{"a":32,"b":33,"v":0.86},{"a":32,"b":34,"v":0.92},{"a":32,"b":35,"v":0.9},{"a":32,"b":36,"v":0.91},{"a":32,"b":37,"v":0.92},{"a":32,"b":38,"v":0.88},{"a":32,"b":39,"v":0.88},{"a":32,"b":40,"v":0.87},{"a":32,"b":41,"v":0.87},{"a":32,"b":42,"v":0.86},{"a":32,"b":43,"v":0.85},
{"a":33,"b":33,"v":1},{"a":33,"b":34,"v":0.78},{"a":33,"b":35,"v":0.79},{"a":33,"b":36,"v":0.79},{"a":33,"b":37,"v":0.78},{"a":33,"b":38,"v":0.77},{"a":33,"b":39,"v":0.77},{"a":33,"b":40,"v":0.77},{"a":33,"b":41,"v":0.75},{"a":33,"b":42,"v":0.74},{"a":33,"b":43,"v":0.73},
{"a":34,"b":34,"v":1},{"a":34,"b":35,"v":0.95},{"a":34,"b":36,"v":0.95},{"a":34,"b":37,"v":0.96},{"a":34,"b":38,"v":0.9},{"a":34,"b":39,"v":0.89},{"a":34,"b":40,"v":0.88},{"a":34,"b":41,"v":0.87},{"a":34,"b":42,"v":0.87},{"a":34,"b":43,"v":0.86},
{"a":35,"b":35,"v":1},{"a":35,"b":36,"v":0.93},{"a":35,"b":37,"v":0.94},{"a":35,"b":38,"v":0.88},{"a":35,"b":39,"v":0.88},{"a":35,"b":40,"v":0.87},{"a":35,"b":41,"v":0.87},{"a":35,"b":42,"v":0.86},{"a":35,"b":43,"v":0.85},
{"a":36,"b":36,"v":1},{"a":36,"b":37,"v":0.95},{"a":36,"b":38,"v":0.88},{"a":36,"b":39,"v":0.88},{"a":36,"b":40,"v":0.87},{"a":36,"b":41,"v":0.87},{"a":36,"b":42,"v":0.87},{"a":36,"b":43,"v":0.85},
{"a":37,"b":37,"v":1},{"a":37,"b":38,"v":0.89},{"a":37,"b":39,"v":0.88},{"a":37,"b":40,"v":0.87},{"a":37,"b":41,"v":0.87},{"a":37,"b":42,"v":0.87},{"a":37,"b":43,"v":0.85},
{"a":38,"b":38,"v":1},{"a":38,"b":39,"v":0.97},{"a":38,"b":40,"v":0.96},{"a":38,"b":41,"v":0.95},{"a":38,"b":42,"v":0.95},{"a":38,"b":43,"v":0.94},
{"a":39,"b":39,"v":1},{"a":39,"b":40,"v":0.96},{"a":39,"b":41,"v":0.95},{"a":39,"b":42,"v":0.97},{"a":39,"b":43,"v":0.94},
{"a":40,"b":40,"v":1},{"a":40,"b":41,"v":0.96},{"a":40,"b":42,"v":0.96},{"a":40,"b":43,"v":0.96},
{"a":41,"b":41,"v":1},{"a":41,"b":42,"v":0.95},{"a":41,"b":43,"v":0.94},
{"a":42,"b":42,"v":1},{"a":42,"b":43,"v":0.94},
{"a":43,"b":43,"v":1}],
"cells":[
{"c":"A.NPC","med":7.3},{"c":"AST","med":7.4},{"c":"D283","med":7.4},{"c":"D341","med":7.9},{"c":"ES","med":6.9},{"c":"HEK293","med":8.3},{"c":"IMR.diff","med":7.9},{"c":"IMR.prog","med":7.9},{"c":"N.D10","med":7},{"c":"N.D2","med":7},{"c":"N.D4","med":7.8},{"c":"P.NPC","med":7.7},{"c":"SH.SY5Y.diff","med":8.4},{"c":"SH.SY5Y.prog","med":7.9},
{"c":"A.NPC","lo":0.5,"hi":1.5,"n":400},{"c":"A.NPC","lo":1.5,"hi":2.5,"n":450},{"c":"A.NPC","lo":2.5,"hi":3.5,"n":600},{"c":"A.NPC","lo":3.5,"hi":4.5,"n":800},{"c":"A.NPC","lo":4.5,"hi":5.5,"n":1000},{"c":"A.NPC","lo":5.5,"hi":6.5,"n":1500},{"c":"A.NPC","lo":6.5,"hi":7.5,"n":2100},{"c":"A.NPC","lo":7.5,"hi":8.5,"n":3100},{"c":"A.NPC","lo":8.5,"hi":9.5,"n":3800},{"c":"A.NPC","lo":9.5,"hi":10.5,"n":3000},
{"c":"AST","lo":0.5,"hi":1.5,"n":200},{"c":"AST","lo":1.5,"hi":2.5,"n":250},{"c":"AST","lo":2.5,"hi":3.5,"n":300},{"c":"AST","lo":3.5,"hi":4.5,"n":350},{"c":"AST","lo":4.5,"hi":5.5,"n":500},{"c":"AST","lo":5.5,"hi":6.5,"n":800},{"c":"AST","lo":6.5,"hi":7.5,"n":1200},{"c":"AST","lo":7.5,"hi":8.5,"n":1500},{"c":"AST","lo":8.5,"hi":9.5,"n":2000},{"c":"AST","lo":9.5,"hi":10.5,"n":1800},
{"c":"D283","lo":0.5,"hi":1.5,"n":350},{"c":"D283","lo":1.5,"hi":2.5,"n":400},{"c":"D283","lo":2.5,"hi":3.5,"n":500},{"c":"D283","lo":3.5,"hi":4.5,"n":700},{"c":"D283","lo":4.5,"hi":5.5,"n":800},{"c":"D283","lo":5.5,"hi":6.5,"n":1100},{"c":"D283","lo":6.5,"hi":7.5,"n":1600},{"c":"D283","lo":7.5,"hi":8.5,"n":2200},{"c":"D283","lo":8.5,"hi":9.5,"n":2800},{"c":"D283","lo":9.5,"hi":10.5,"n":2500},
{"c":"D341","lo":0.5,"hi":1.5,"n":200},{"c":"D341","lo":1.5,"hi":2.5,"n":250},{"c":"D341","lo":2.5,"hi":3.5,"n":350},{"c":"D341","lo":3.5,"hi":4.5,"n":450},{"c":"D341","lo":4.5,"hi":5.5,"n":600},{"c":"D341","lo":5.5,"hi":6.5,"n":900},{"c":"D341","lo":6.5,"hi":7.5,"n":1300},{"c":"D341","lo":7.5,"hi":8.5,"n":2200},{"c":"D341","lo":8.5,"hi":9.5,"n":3300},{"c":"D341","lo":9.5,"hi":10.5,"n":3600},
{"c":"ES","lo":0.5,"hi":1.5,"n":200},{"c":"ES","lo":1.5,"hi":2.5,"n":250},{"c":"ES","lo":2.5,"hi":3.5,"n":350},{"c":"ES","lo":3.5,"hi":4.5,"n":400},{"c":"ES","lo":4.5,"hi":5.5,"n":500},{"c":"ES","lo":5.5,"hi":6.5,"n":700},{"c":"ES","lo":6.5,"hi":7.5,"n":900},{"c":"ES","lo":7.5,"hi":8.5,"n":1200},{"c":"ES","lo":8.5,"hi":9.5,"n":1400},{"c":"ES","lo":9.5,"hi":10.5,"n":1000},
{"c":"HEK293","lo":0.5,"hi":1.5,"n":100},{"c":"HEK293","lo":1.5,"hi":2.5,"n":120},{"c":"HEK293","lo":2.5,"hi":3.5,"n":180},{"c":"HEK293","lo":3.5,"hi":4.5,"n":250},{"c":"HEK293","lo":4.5,"hi":5.5,"n":400},{"c":"HEK293","lo":5.5,"hi":6.5,"n":650},{"c":"HEK293","lo":6.5,"hi":7.5,"n":1200},{"c":"HEK293","lo":7.5,"hi":8.5,"n":2300},{"c":"HEK293","lo":8.5,"hi":9.5,"n":3500},{"c":"HEK293","lo":9.5,"hi":10.5,"n":4500},
{"c":"IMR.diff","lo":0.5,"hi":1.5,"n":150},{"c":"IMR.diff","lo":1.5,"hi":2.5,"n":200},{"c":"IMR.diff","lo":2.5,"hi":3.5,"n":300},{"c":"IMR.diff","lo":3.5,"hi":4.5,"n":400},{"c":"IMR.diff","lo":4.5,"hi":5.5,"n":650},{"c":"IMR.diff","lo":5.5,"hi":6.5,"n":850},{"c":"IMR.diff","lo":6.5,"hi":7.5,"n":1300},{"c":"IMR.diff","lo":7.5,"hi":8.5,"n":2100},{"c":"IMR.diff","lo":8.5,"hi":9.5,"n":3300},{"c":"IMR.diff","lo":9.5,"hi":10.5,"n":3400},
{"c":"IMR.prog","lo":0.5,"hi":1.5,"n":300},{"c":"IMR.prog","lo":1.5,"hi":2.5,"n":300},{"c":"IMR.prog","lo":2.5,"hi":3.5,"n":350},{"c":"IMR.prog","lo":3.5,"hi":4.5,"n":400},{"c":"IMR.prog","lo":4.5,"hi":5.5,"n":500},{"c":"IMR.prog","lo":5.5,"hi":6.5,"n":800},{"c":"IMR.prog","lo":6.5,"hi":7.5,"n":1300},{"c":"IMR.prog","lo":7.5,"hi":8.5,"n":2300},{"c":"IMR.prog","lo":8.5,"hi":9.5,"n":3300},{"c":"IMR.prog","lo":9.5,"hi":10.5,"n":3700},
{"c":"N.D10","lo":0.5,"hi":1.5,"n":550},{"c":"N.D10","lo":1.5,"hi":2.5,"n":600},{"c":"N.D10","lo":2.5,"hi":3.5,"n":700},{"c":"N.D10","lo":3.5,"hi":4.5,"n":850},{"c":"N.D10","lo":4.5,"hi":5.5,"n":1100},{"c":"N.D10","lo":5.5,"hi":6.5,"n":1700},{"c":"N.D10","lo":6.5,"hi":7.5,"n":2100},{"c":"N.D10","lo":7.5,"hi":8.5,"n":2900},{"c":"N.D10","lo":8.5,"hi":9.5,"n":3400},{"c":"N.D10","lo":9.5,"hi":10.5,"n":2500},
{"c":"N.D2","lo":0.5,"hi":1.5,"n":550},{"c":"N.D2","lo":1.5,"hi":2.5,"n":600},{"c":"N.D2","lo":2.5,"hi":3.5,"n":700},{"c":"N.D2","lo":3.5,"hi":4.5,"n":900},{"c":"N.D2","lo":4.5,"hi":5.5,"n":1200},{"c":"N.D2","lo":5.5,"hi":6.5,"n":1700},{"c":"N.D2","lo":6.5,"hi":7.5,"n":2300},{"c":"N.D2","lo":7.5,"hi":8.5,"n":3000},{"c":"N.D2","lo":8.5,"hi":9.5,"n":3500},{"c":"N.D2","lo":9.5,"hi":10.5,"n":2600},
{"c":"N.D4","lo":0.5,"hi":1.5,"n":300},{"c":"N.D4","lo":1.5,"hi":2.5,"n":350},{"c":"N.D4","lo":2.5,"hi":3.5,"n":450},{"c":"N.D4","lo":3.5,"hi":4.5,"n":600},{"c":"N.D4","lo":4.5,"hi":5.5,"n":800},{"c":"N.D4","lo":5.5,"hi":6.5,"n":1100},{"c":"N.D4","lo":6.5,"hi":7.5,"n":1700},{"c":"N.D4","lo":7.5,"hi":8.5,"n":2400},{"c":"N.D4","lo":8.5,"hi":9.5,"n":3300},{"c":"N.D4","lo":9.5,"hi":10.5,"n":3200},
{"c":"P.NPC","lo":0.5,"hi":1.5,"n":350},{"c":"P.NPC","lo":1.5,"hi":2.5,"n":400},{"c":"P.NPC","lo":2.5,"hi":3.5,"n":500},{"c":"P.NPC","lo":3.5,"hi":4.5,"n":600},{"c":"P.NPC","lo":4.5,"hi":5.5,"n":800},{"c":"P.NPC","lo":5.5,"hi":6.5,"n":1100},{"c":"P.NPC","lo":6.5,"hi":7.5,"n":1800},{"c":"P.NPC","lo":7.5,"hi":8.5,"n":2900},{"c":"P.NPC","lo":8.5,"hi":9.5,"n":4100},{"c":"P.NPC","lo":9.5,"hi":10.5,"n":3900},
{"c":"SH.SY5Y.diff","lo":0.5,"hi":1.5,"n":250},{"c":"SH.SY5Y.diff","lo":1.5,"hi":2.5,"n":250},{"c":"SH.SY5Y.diff","lo":2.5,"hi":3.5,"n":300},{"c":"SH.SY5Y.diff","lo":3.5,"hi":4.5,"n":350},{"c":"SH.SY5Y.diff","lo":4.5,"hi":5.5,"n":500},{"c":"SH.SY5Y.diff","lo":5.5,"hi":6.5,"n":800},{"c":"SH.SY5Y.diff","lo":6.5,"hi":7.5,"n":1300},{"c":"SH.SY5Y.diff","lo":7.5,"hi":8.5,"n":2100},{"c":"SH.SY5Y.diff","lo":8.5,"hi":9.5,"n":3800},{"c":"SH.SY5Y.diff","lo":9.5,"hi":10.5,"n":4900},
{"c":"SH.SY5Y.prog","lo":0.5,"hi":1.5,"n":200},{"c":"SH.SY5Y.prog","lo":1.5,"hi":2.5,"n":250},{"c":"SH.SY5Y.prog","lo":2.5,"hi":3.5,"n":300},{"c":"SH.SY5Y.prog","lo":3.5,"hi":4.5,"n":350},{"c":"SH.SY5Y.prog","lo":4.5,"hi":5.5,"n":500},{"c":"SH.SY5Y.prog","lo":5.5,"hi":6.5,"n":800},{"c":"SH.SY5Y.prog","lo":6.5,"hi":7.5,"n":1200},{"c":"SH.SY5Y.prog","lo":7.5,"hi":8.5,"n":2100},{"c":"SH.SY5Y.prog","lo":8.5,"hi":9.5,"n":3400},{"c":"SH.SY5Y.prog","lo":9.5,"hi":10.5,"n":3400}]
},
"vconcat":[
{"width":1,"height":16.7,"data":{"values":[{"t":""}]},"mark":"text","encoding":{"text":{"field":"t"}}},
{"hconcat":[
{"width":29,"height":1,"title":{"text":"A","anchor":"start","dx":1.5,"offset":-5,"fontSize":14},"data":{"values":[{"t":""}]},"mark":"text","encoding":{"text":{"field":"t"}}},
{"vconcat":[{"width":1,"height":12.3,"data":{"values":[{"t":""}]},"mark":"text","encoding":{"text":{"field":"t"}}},
{"width":144,"height":166,"view":{"stroke":"#ccc"},"title":{"text":["# of reads","per MPRA sample"],"dx":-10,"offset":1},
"data":{"name":"reads"},"mark":{"type":"bar","color":"#595959"},
"encoding":{"y":{"field":"s","type":"nominal","sort":null,"scale":{"paddingInner":0.16,"paddingOuter":0.05},"axis":{"title":"sample","labelFontSize":3.3,"labelColor":"#777","tickSize":1,"domain":false,"titleFontSize":6,"titleX":-22,"labelPadding":1,"tickColor":"#999"}},
"x":{"field":"r","type":"quantitative","scale":{"type":"log","domain":[0.26,145000000],"nice":false},"axis":{"values":[100,100000,100000000],"labelExpr":"datum.value==100?'1e+02':datum.value==100000?'1e+05':'1e+08'","title":"# reads","labelFontSize":4,"labelColor":"#777","tickSize":0.5,"domain":false,"titleFontSize":6,"titlePadding":0,"labelPadding":0,"tickColor":"#999"}},
"x2":{"datum":0.6}}}],"spacing":0,"bounds":"flush"},
{"width":163.7,"height":1,"title":{"text":"B","anchor":"start","dx":143,"offset":-5,"fontSize":14},"data":{"values":[{"t":""}]},"mark":"text","encoding":{"text":{"field":"t"}}},
{"vconcat":[{"width":1,"height":21.3,"data":{"values":[{"t":""}]},"mark":"text","encoding":{"text":{"field":"t"}}},
{"width":149,"height":147.7,"title":{"text":["# of barcodes in","plasmid library"],"dx":-7,"offset":9},
"data":{"values":[{"x0":0.5,"x1":1.5,"n":40},{"x0":1.5,"x1":2.5,"n":76},{"x0":2.5,"x1":3.5,"n":76},{"x0":3.5,"x1":4.5,"n":87},{"x0":4.5,"x1":5.5,"n":120},{"x0":5.5,"x1":6.5,"n":189},{"x0":6.5,"x1":7.5,"n":356},{"x0":7.5,"x1":8.5,"n":675},{"x0":8.5,"x1":9.5,"n":1220},{"x0":9.5,"x1":10.5,"n":1438}]},"mark":{"type":"bar","color":"#595959"},
"encoding":{"x":{"field":"x0","type":"quantitative","scale":{"domain":[-0.05,10.9],"nice":false,"zero":false},"axis":{"values":[0,2.5,5,7.5,10],"format":".1f","title":"# barcodes","labelFontSize":6,"titleFontSize":6,"domainColor":"#888","domainWidth":1.5,"tickSize":2,"tickColor":"#888","labelColor":"#444","labelPadding":1,"titlePadding":3,"labelOverlap":false}},
"x2":{"field":"x1"},
"y":{"field":"n","type":"quantitative","scale":{"domain":[-87,1520],"nice":false,"zero":false},"axis":{"values":[0,500,1000,1500],"format":"d","title":"count","labelFontSize":6,"titleFontSize":6,"domainColor":"#888","domainWidth":1.5,"tickSize":0,"labelColor":"#444","labelPadding":2,"titlePadding":2}},
"y2":{"datum":0}}}],"spacing":0,"bounds":"flush"},
{"width":169.6,"height":1,"title":{"text":"C","anchor":"start","dx":150.6,"offset":-5,"fontSize":14},"data":{"values":[{"t":""}]},"mark":"text","encoding":{"text":{"field":"t"}}},
{"vconcat":[{"width":1,"height":23.3,"data":{"values":[{"t":""}]},"mark":"text","encoding":{"text":{"field":"t"}}},
{"width":139.4,"height":142.7,"title":{"text":["# of barcodes in","RNA library"],"dx":-11,"offset":12},
"data":{"values":[{"x0":0.5,"x1":1.5,"n":2545},{"x0":1.5,"x1":2.5,"n":3090},{"x0":2.5,"x1":3.5,"n":3090},{"x0":3.5,"x1":4.5,"n":4545},{"x0":4.5,"x1":5.5,"n":5636},{"x0":5.5,"x1":6.5,"n":9636},{"x0":6.5,"x1":7.5,"n":18180},{"x0":7.5,"x1":8.5,"n":34000},{"x0":8.5,"x1":9.5,"n":60720},{"x0":9.5,"x1":10.5,"n":70180}]},"mark":{"type":"bar","color":"#595959"},
"encoding":{"x":{"field":"x0","type":"quantitative","scale":{"domain":[-0.13,11.08],"nice":false,"zero":false},"axis":{"values":[0,2.5,5,7.5,10],"format":".1f","title":"# barcodes","labelFontSize":6,"titleFontSize":6,"domainColor":"#888","domainWidth":1.5,"tickSize":2,"tickColor":"#888","labelColor":"#444","labelPadding":1,"titlePadding":3,"labelOverlap":false}},
"x2":{"field":"x1"},
"y":{"field":"n","type":"quantitative","scale":{"domain":[-3818,74018],"nice":false,"zero":false},"axis":{"values":[0,20000,40000,60000],"format":"d","title":"count","labelFontSize":6,"titleFontSize":6,"domainColor":"#888","domainWidth":1.5,"tickSize":0,"labelColor":"#444","labelPadding":2,"titlePadding":2}},
"y2":{"datum":0}}}],"spacing":0,"bounds":"flush"},
{"width":164.4,"height":1,"title":{"text":"D","anchor":"start","dx":140,"offset":-5,"fontSize":14},"data":{"values":[{"t":""}]},"mark":"text","encoding":{"text":{"field":"t"}}},
{"vconcat":[{"width":144.3,"height":171.6,"view":{"stroke":"#bbb"},"title":{"text":"Power Analysis for Barcode #","dx":1,"offset":4,"fontSize":12},
"data":{"name":"power"},
"encoding":{"x":{"field":"b","type":"quantitative","scale":{"domain":[0.5,104.3],"nice":false,"zero":false},"axis":{"values":[25,50,75,100],"title":"# barcodes","labelFontSize":6,"titleFontSize":6,"domain":false,"tickSize":2,"tickColor":"#888","labelColor":"#444","labelPadding":1,"titlePadding":0}},
"color":{"field":"g","type":"nominal","scale":{"domain":["1.2","1.5","2","3"],"range":["#F8766D","#7CAE00","#00BFC4","#C77CFF"]},"legend":{"orient":"none","legendX":622,"legendY":123,"title":"Effect Size Log-2 FC","titleFontSize":5,"labelFontSize":5,"symbolSize":8,"symbolOpacity":1,"clipHeight":5.3,"titleFontWeight":"normal","titleFont":"Roboto","labelFont":"Roboto","padding":0,"rowPadding":2,"titlePadding":2,"symbolOffset":8,"labelOffset":5}}},
"layer":[{"mark":{"type":"rule","opacity":0.3,"strokeWidth":2},"encoding":{"y":{"field":"l","type":"quantitative","scale":{"domain":[-0.043,1.055],"nice":false,"zero":false},"axis":{"values":[0,0.25,0.5,0.75,1],"format":".2f","title":"sensitivity","labelFontSize":6.5,"titleFontSize":6.5,"domain":false,"tickSize":2,"tickColor":"#888","labelColor":"#444","labelPadding":1,"titlePadding":4}},"y2":{"field":"h"}}},
{"mark":{"type":"line","strokeWidth":0.9,"opacity":0.6},"encoding":{"y":{"field":"m","type":"quantitative"}}},
{"mark":{"type":"point","filled":true,"size":4,"opacity":1},"encoding":{"y":{"field":"m","type":"quantitative"}}}]}],"spacing":0,"bounds":"flush"},
{"width":160,"height":1,"title":{"text":"E","anchor":"start","dx":165.3,"offset":-5,"fontSize":14},"data":{"values":[{"t":""}]},"mark":"text","encoding":{"text":{"field":"t"}}},
{"vconcat":[{"width":149.3,"height":16.3,"title":{"text":"HEK293T QQplot","dx":0,"offset":3,"fontSize":12.8},"data":{"values":[{"t":""}]},"mark":"text","encoding":{"text":{"field":"t"}}},
{"width":149.3,"height":146.3,"title":{"text":"HEK293T QQplot","anchor":"start","frame":"group","fontSize":5,"fontWeight":"bold","offset":4},
"layer":[
{"data":{"values":[{"x":-0.16,"y":-0.16},{"x":3.52,"y":3.52}]},"mark":{"type":"line","color":"#f59a96","strokeWidth":0.9},"encoding":{"x":{"field":"x","type":"quantitative","scale":{"domain":[-0.163,3.52],"nice":false,"zero":false},"axis":{"values":[0,1,2,3],"title":"−log10 theoretical p−value","labelFontSize":5,"titleFontSize":5.5,"domainColor":"#777","tickSize":2,"tickColor":"#777","labelColor":"#555","labelPadding":1,"titlePadding":3}},"y":{"field":"y","type":"quantitative","scale":{"domain":[-2.54,31.2],"nice":false,"zero":false},"axis":{"values":[0,10,20,30],"title":"−log10 observed p−value","labelFontSize":5,"titleFontSize":5.5,"domainColor":"#777","tickSize":2,"tickColor":"#777","labelColor":"#555","labelPadding":1,"titlePadding":1}}}},
{"data":{"name":"qq"},"transform":[{"filter":"datum.x<=2.1"}],"mark":{"type":"line","color":"#000","strokeWidth":1.5},"encoding":{"x":{"field":"x","type":"quantitative"},"y":{"field":"y","type":"quantitative"}}},
{"data":{"name":"qq"},"mark":{"type":"point","filled":true,"color":"#222","size":1.6,"opacity":1},"encoding":{"x":{"field":"x","type":"quantitative"},"y":{"field":"y","type":"quantitative"}}}]}],"spacing":0,"bounds":"flush"}
],"spacing":0,"bounds":"flush"},
{"width":1,"height":221.3,"data":{"values":[{"t":""}]},"mark":"text","encoding":{"text":{"field":"t"}}},
{"hconcat":[
{"width":19,"height":1,"title":{"text":"F","anchor":"start","dx":7,"offset":6,"fontSize":14},"data":{"values":[{"t":""}]},"mark":"text","encoding":{"text":{"field":"t"}}},
{"width":28.7,"height":110,"title":{"text":"count # reads","orient":"left","fontSize":10.5,"offset":0},"data":{"values":[{"t":""}]},"mark":"text","encoding":{"text":{"field":"t"}}},
{"title":{"text":"# of barcodes in MPRA RNA library - by cell-type","anchor":"start","frame":"group","fontSize":12,"offset":5},"spacing":0,"bounds":"flush",
"vconcat":[
{"hconcat":[
{"width":106,"height":39,"data":{"name":"cells"},"transform":[{"filter":"datum.c=='A.NPC'"}],"layer":[{"transform":[{"filter":"datum.med"}],"mark":{"type":"rect","fill":"white","stroke":"#333","strokeWidth":1.2},"encoding":{"x":{"datum":0,"type":"quantitative","axis":null},"x2":{"datum":10.93},"y":{"datum":5476,"type":"quantitative","axis":{"values":[0,3000,5000],"format":"d","title":null,"labelFontSize":8.5,"labelColor":"#aaa","domainColor":"#222","tickSize":2,"tickColor":"#222","labelPadding":1,"labelOverlap":false}},"y2":{"datum":9286}}},{"transform":[{"filter":"datum.med"}],"mark":{"type":"text","fontSize":8.5,"color":"#666","font":"Roboto"},"encoding":{"text":{"field":"c"},"x":{"datum":5.46,"type":"quantitative","axis":null},"y":{"datum":7381,"type":"quantitative"}}},{"transform":[{"filter":"datum.n"}],"mark":{"type":"bar","color":"#595959"},"encoding":{"x":{"field":"lo","type":"quantitative","scale":{"domain":[0,10.93],"nice":false,"zero":false},"axis":null},"x2":{"field":"hi"},"y":{"field":"n","type":"quantitative","scale":{"domain":[0,9286],"nice":false}},"y2":{"datum":0}}},{"transform":[{"filter":"datum.med"}],"mark":{"type":"rule","color":"#ee2222","strokeWidth":1},"encoding":{"x":{"field":"med","type":"quantitative","axis":null},"y":{"datum":0,"type":"quantitative"},"y2":{"datum":5476}}}]},
{"width":106,"height":39,"data":{"name":"cells"},"transform":[{"filter":"datum.c=='AST'"}],"layer":[{"transform":[{"filter":"datum.med"}],"mark":{"type":"rect","fill":"white","stroke":"#333","strokeWidth":1.2},"encoding":{"x":{"datum":0,"type":"quantitative","axis":null},"x2":{"datum":10.93},"y":{"datum":5476,"type":"quantitative","axis":null},"y2":{"datum":9286}}},{"transform":[{"filter":"datum.med"}],"mark":{"type":"text","fontSize":8.5,"color":"#666","font":"Roboto"},"encoding":{"text":{"field":"c"},"x":{"datum":5.46,"type":"quantitative","axis":null},"y":{"datum":7381,"type":"quantitative","axis":null}}},{"transform":[{"filter":"datum.n"}],"mark":{"type":"bar","color":"#595959"},"encoding":{"x":{"field":"lo","type":"quantitative","scale":{"domain":[0,10.93],"nice":false,"zero":false},"axis":null},"x2":{"field":"hi"},"y":{"field":"n","type":"quantitative","scale":{"domain":[0,9286],"nice":false},"axis":null},"y2":{"datum":0}}},{"transform":[{"filter":"datum.med"}],"mark":{"type":"rule","color":"#ee2222","strokeWidth":1},"encoding":{"x":{"field":"med","type":"quantitative","axis":null},"y":{"datum":0,"type":"quantitative","axis":null},"y2":{"datum":5476}}}]},
{"width":106,"height":39,"data":{"name":"cells"},"transform":[{"filter":"datum.c=='D283'"}],"layer":[{"transform":[{"filter":"datum.med"}],"mark":{"type":"rect","fill":"white","stroke":"#333","strokeWidth":1.2},"encoding":{"x":{"datum":0,"type":"quantitative","axis":null},"x2":{"datum":10.93},"y":{"datum":5476,"type":"quantitative","axis":null},"y2":{"datum":9286}}},{"transform":[{"filter":"datum.med"}],"mark":{"type":"text","fontSize":8.5,"color":"#666","font":"Roboto"},"encoding":{"text":{"field":"c"},"x":{"datum":5.46,"type":"quantitative","axis":null},"y":{"datum":7381,"type":"quantitative","axis":null}}},{"transform":[{"filter":"datum.n"}],"mark":{"type":"bar","color":"#595959"},"encoding":{"x":{"field":"lo","type":"quantitative","scale":{"domain":[0,10.93],"nice":false,"zero":false},"axis":null},"x2":{"field":"hi"},"y":{"field":"n","type":"quantitative","scale":{"domain":[0,9286],"nice":false},"axis":null},"y2":{"datum":0}}},{"transform":[{"filter":"datum.med"}],"mark":{"type":"rule","color":"#ee2222","strokeWidth":1},"encoding":{"x":{"field":"med","type":"quantitative","axis":null},"y":{"datum":0,"type":"quantitative","axis":null},"y2":{"datum":5476}}}]},
{"width":106,"height":39,"data":{"name":"cells"},"transform":[{"filter":"datum.c=='D341'"}],"layer":[{"transform":[{"filter":"datum.med"}],"mark":{"type":"rect","fill":"white","stroke":"#333","strokeWidth":1.2},"encoding":{"x":{"datum":0,"type":"quantitative","axis":null},"x2":{"datum":10.93},"y":{"datum":5476,"type":"quantitative","axis":null},"y2":{"datum":9286}}},{"transform":[{"filter":"datum.med"}],"mark":{"type":"text","fontSize":8.5,"color":"#666","font":"Roboto"},"encoding":{"text":{"field":"c"},"x":{"datum":5.46,"type":"quantitative","axis":null},"y":{"datum":7381,"type":"quantitative","axis":null}}},{"transform":[{"filter":"datum.n"}],"mark":{"type":"bar","color":"#595959"},"encoding":{"x":{"field":"lo","type":"quantitative","scale":{"domain":[0,10.93],"nice":false,"zero":false},"axis":null},"x2":{"field":"hi"},"y":{"field":"n","type":"quantitative","scale":{"domain":[0,9286],"nice":false},"axis":null},"y2":{"datum":0}}},{"transform":[{"filter":"datum.med"}],"mark":{"type":"rule","color":"#ee2222","strokeWidth":1},"encoding":{"x":{"field":"med","type":"quantitative","axis":null},"y":{"datum":0,"type":"quantitative","axis":null},"y2":{"datum":5476}}}]},
{"width":106,"height":39,"data":{"name":"cells"},"transform":[{"filter":"datum.c=='ES'"}],"layer":[{"transform":[{"filter":"datum.med"}],"mark":{"type":"rect","fill":"white","stroke":"#333","strokeWidth":1.2},"encoding":{"x":{"datum":0,"type":"quantitative","axis":null},"x2":{"datum":10.93},"y":{"datum":5476,"type":"quantitative","axis":null},"y2":{"datum":9286}}},{"transform":[{"filter":"datum.med"}],"mark":{"type":"text","fontSize":8.5,"color":"#666","font":"Roboto"},"encoding":{"text":{"field":"c"},"x":{"datum":5.46,"type":"quantitative","axis":null},"y":{"datum":7381,"type":"quantitative","axis":null}}},{"transform":[{"filter":"datum.n"}],"mark":{"type":"bar","color":"#595959"},"encoding":{"x":{"field":"lo","type":"quantitative","scale":{"domain":[0,10.93],"nice":false,"zero":false},"axis":null},"x2":{"field":"hi"},"y":{"field":"n","type":"quantitative","scale":{"domain":[0,9286],"nice":false},"axis":null},"y2":{"datum":0}}},{"transform":[{"filter":"datum.med"}],"mark":{"type":"rule","color":"#ee2222","strokeWidth":1},"encoding":{"x":{"field":"med","type":"quantitative","axis":null},"y":{"datum":0,"type":"quantitative","axis":null},"y2":{"datum":5476}}}]},
{"width":106,"height":39,"data":{"name":"cells"},"transform":[{"filter":"datum.c=='HEK293'"}],"layer":[{"transform":[{"filter":"datum.med"}],"mark":{"type":"rect","fill":"white","stroke":"#333","strokeWidth":1.2},"encoding":{"x":{"datum":0,"type":"quantitative","axis":null},"x2":{"datum":10.93},"y":{"datum":5476,"type":"quantitative","axis":null},"y2":{"datum":9286}}},{"transform":[{"filter":"datum.med"}],"mark":{"type":"text","fontSize":8.5,"color":"#666","font":"Roboto"},"encoding":{"text":{"field":"c"},"x":{"datum":5.46,"type":"quantitative","axis":null},"y":{"datum":7381,"type":"quantitative","axis":null}}},{"transform":[{"filter":"datum.n"}],"mark":{"type":"bar","color":"#595959"},"encoding":{"x":{"field":"lo","type":"quantitative","scale":{"domain":[0,10.93],"nice":false,"zero":false},"axis":null},"x2":{"field":"hi"},"y":{"field":"n","type":"quantitative","scale":{"domain":[0,9286],"nice":false},"axis":null},"y2":{"datum":0}}},{"transform":[{"filter":"datum.med"}],"mark":{"type":"rule","color":"#ee2222","strokeWidth":1},"encoding":{"x":{"field":"med","type":"quantitative","axis":null},"y":{"datum":0,"type":"quantitative","axis":null},"y2":{"datum":5476}}}]},
{"width":106,"height":39,"data":{"name":"cells"},"transform":[{"filter":"datum.c=='IMR.diff'"}],"layer":[{"transform":[{"filter":"datum.med"}],"mark":{"type":"rect","fill":"white","stroke":"#333","strokeWidth":1.2},"encoding":{"x":{"datum":0,"type":"quantitative","axis":null},"x2":{"datum":10.93},"y":{"datum":5476,"type":"quantitative","axis":null},"y2":{"datum":9286}}},{"transform":[{"filter":"datum.med"}],"mark":{"type":"text","fontSize":8.5,"color":"#666","font":"Roboto"},"encoding":{"text":{"field":"c"},"x":{"datum":5.46,"type":"quantitative","axis":null},"y":{"datum":7381,"type":"quantitative","axis":null}}},{"transform":[{"filter":"datum.n"}],"mark":{"type":"bar","color":"#595959"},"encoding":{"x":{"field":"lo","type":"quantitative","scale":{"domain":[0,10.93],"nice":false,"zero":false},"axis":null},"x2":{"field":"hi"},"y":{"field":"n","type":"quantitative","scale":{"domain":[0,9286],"nice":false},"axis":null},"y2":{"datum":0}}},{"transform":[{"filter":"datum.med"}],"mark":{"type":"rule","color":"#ee2222","strokeWidth":1},"encoding":{"x":{"field":"med","type":"quantitative","axis":null},"y":{"datum":0,"type":"quantitative","axis":null},"y2":{"datum":5476}}}]}
],"spacing":6.2,"bounds":"flush"},
{"width":1,"height":46,"data":{"values":[{"t":""}]},"mark":"text","encoding":{"text":{"field":"t"}}},
{"hconcat":[
{"width":106,"height":39,"data":{"name":"cells"},"transform":[{"filter":"datum.c=='IMR.prog'"}],"layer":[{"transform":[{"filter":"datum.med"}],"mark":{"type":"rect","fill":"white","stroke":"#333","strokeWidth":1.2},"encoding":{"x":{"datum":0,"type":"quantitative","axis":{"values":[0,2.5,5,7.5,10],"format":".1f","title":null,"labelFontSize":8.5,"labelColor":"#aaa","domainColor":"#222","tickSize":2,"tickColor":"#222","labelPadding":2,"labelOverlap":false,"labelBound":false,"labelFlush":false}},"x2":{"datum":10.93},"y":{"datum":5476,"type":"quantitative","axis":{"values":[0,3000,5000],"format":"d","title":null,"labelFontSize":8.5,"labelColor":"#aaa","domainColor":"#222","tickSize":2,"tickColor":"#222","labelPadding":1,"labelOverlap":false}},"y2":{"datum":9286}}},{"transform":[{"filter":"datum.med"}],"mark":{"type":"text","fontSize":8.5,"color":"#666","font":"Roboto"},"encoding":{"text":{"field":"c"},"x":{"datum":5.46,"type":"quantitative"},"y":{"datum":7381,"type":"quantitative"}}},{"transform":[{"filter":"datum.n"}],"mark":{"type":"bar","color":"#595959"},"encoding":{"x":{"field":"lo","type":"quantitative","scale":{"domain":[0,10.93],"nice":false,"zero":false}},"x2":{"field":"hi"},"y":{"field":"n","type":"quantitative","scale":{"domain":[0,9286],"nice":false}},"y2":{"datum":0}}},{"transform":[{"filter":"datum.med"}],"mark":{"type":"rule","color":"#ee2222","strokeWidth":1},"encoding":{"x":{"field":"med","type":"quantitative"},"y":{"datum":0,"type":"quantitative"},"y2":{"datum":5476}}}]},
{"width":106,"height":39,"data":{"name":"cells"},"transform":[{"filter":"datum.c=='N.D10'"}],"layer":[{"transform":[{"filter":"datum.med"}],"mark":{"type":"rect","fill":"white","stroke":"#333","strokeWidth":1.2},"encoding":{"x":{"datum":0,"type":"quantitative","axis":{"values":[0,2.5,5,7.5,10],"format":".1f","title":null,"labelFontSize":8.5,"labelColor":"#aaa","domainColor":"#222","tickSize":2,"tickColor":"#222","labelPadding":2,"labelOverlap":false,"labelBound":false,"labelFlush":false}},"x2":{"datum":10.93},"y":{"datum":5476,"type":"quantitative","axis":null},"y2":{"datum":9286}}},{"transform":[{"filter":"datum.med"}],"mark":{"type":"text","fontSize":8.5,"color":"#666","font":"Roboto"},"encoding":{"text":{"field":"c"},"x":{"datum":5.46,"type":"quantitative"},"y":{"datum":7381,"type":"quantitative","axis":null}}},{"transform":[{"filter":"datum.n"}],"mark":{"type":"bar","color":"#595959"},"encoding":{"x":{"field":"lo","type":"quantitative","scale":{"domain":[0,10.93],"nice":false,"zero":false}},"x2":{"field":"hi"},"y":{"field":"n","type":"quantitative","scale":{"domain":[0,9286],"nice":false},"axis":null},"y2":{"datum":0}}},{"transform":[{"filter":"datum.med"}],"mark":{"type":"rule","color":"#ee2222","strokeWidth":1},"encoding":{"x":{"field":"med","type":"quantitative"},"y":{"datum":0,"type":"quantitative","axis":null},"y2":{"datum":5476}}}]},
{"width":106,"height":39,"data":{"name":"cells"},"transform":[{"filter":"datum.c=='N.D2'"}],"layer":[{"transform":[{"filter":"datum.med"}],"mark":{"type":"rect","fill":"white","stroke":"#333","strokeWidth":1.2},"encoding":{"x":{"datum":0,"type":"quantitative","axis":{"values":[0,2.5,5,7.5,10],"format":".1f","title":null,"labelFontSize":8.5,"labelColor":"#aaa","domainColor":"#222","tickSize":2,"tickColor":"#222","labelPadding":2,"labelOverlap":false,"labelBound":false,"labelFlush":false}},"x2":{"datum":10.93},"y":{"datum":5476,"type":"quantitative","axis":null},"y2":{"datum":9286}}},{"transform":[{"filter":"datum.med"}],"mark":{"type":"text","fontSize":8.5,"color":"#666","font":"Roboto"},"encoding":{"text":{"field":"c"},"x":{"datum":5.46,"type":"quantitative"},"y":{"datum":7381,"type":"quantitative","axis":null}}},{"transform":[{"filter":"datum.n"}],"mark":{"type":"bar","color":"#595959"},"encoding":{"x":{"field":"lo","type":"quantitative","scale":{"domain":[0,10.93],"nice":false,"zero":false}},"x2":{"field":"hi"},"y":{"field":"n","type":"quantitative","scale":{"domain":[0,9286],"nice":false},"axis":null},"y2":{"datum":0}}},{"transform":[{"filter":"datum.med"}],"mark":{"type":"rule","color":"#ee2222","strokeWidth":1},"encoding":{"x":{"field":"med","type":"quantitative"},"y":{"datum":0,"type":"quantitative","axis":null},"y2":{"datum":5476}}}]},
{"width":106,"height":39,"data":{"name":"cells"},"transform":[{"filter":"datum.c=='N.D4'"}],"layer":[{"transform":[{"filter":"datum.med"}],"mark":{"type":"rect","fill":"white","stroke":"#333","strokeWidth":1.2},"encoding":{"x":{"datum":0,"type":"quantitative","axis":{"values":[0,2.5,5,7.5,10],"format":".1f","title":null,"labelFontSize":8.5,"labelColor":"#aaa","domainColor":"#222","tickSize":2,"tickColor":"#222","labelPadding":2,"labelOverlap":false,"labelBound":false,"labelFlush":false}},"x2":{"datum":10.93},"y":{"datum":5476,"type":"quantitative","axis":null},"y2":{"datum":9286}}},{"transform":[{"filter":"datum.med"}],"mark":{"type":"text","fontSize":8.5,"color":"#666","font":"Roboto"},"encoding":{"text":{"field":"c"},"x":{"datum":5.46,"type":"quantitative"},"y":{"datum":7381,"type":"quantitative","axis":null}}},{"transform":[{"filter":"datum.n"}],"mark":{"type":"bar","color":"#595959"},"encoding":{"x":{"field":"lo","type":"quantitative","scale":{"domain":[0,10.93],"nice":false,"zero":false}},"x2":{"field":"hi"},"y":{"field":"n","type":"quantitative","scale":{"domain":[0,9286],"nice":false},"axis":null},"y2":{"datum":0}}},{"transform":[{"filter":"datum.med"}],"mark":{"type":"rule","color":"#ee2222","strokeWidth":1},"encoding":{"x":{"field":"med","type":"quantitative"},"y":{"datum":0,"type":"quantitative","axis":null},"y2":{"datum":5476}}}]},
{"width":106,"height":39,"data":{"name":"cells"},"transform":[{"filter":"datum.c=='P.NPC'"}],"layer":[{"transform":[{"filter":"datum.med"}],"mark":{"type":"rect","fill":"white","stroke":"#333","strokeWidth":1.2},"encoding":{"x":{"datum":0,"type":"quantitative","axis":{"values":[0,2.5,5,7.5,10],"format":".1f","title":null,"labelFontSize":8.5,"labelColor":"#aaa","domainColor":"#222","tickSize":2,"tickColor":"#222","labelPadding":2,"labelOverlap":false,"labelBound":false,"labelFlush":false}},"x2":{"datum":10.93},"y":{"datum":5476,"type":"quantitative","axis":null},"y2":{"datum":9286}}},{"transform":[{"filter":"datum.med"}],"mark":{"type":"text","fontSize":8.5,"color":"#666","font":"Roboto"},"encoding":{"text":{"field":"c"},"x":{"datum":5.46,"type":"quantitative"},"y":{"datum":7381,"type":"quantitative","axis":null}}},{"transform":[{"filter":"datum.n"}],"mark":{"type":"bar","color":"#595959"},"encoding":{"x":{"field":"lo","type":"quantitative","scale":{"domain":[0,10.93],"nice":false,"zero":false}},"x2":{"field":"hi"},"y":{"field":"n","type":"quantitative","scale":{"domain":[0,9286],"nice":false},"axis":null},"y2":{"datum":0}}},{"transform":[{"filter":"datum.med"}],"mark":{"type":"rule","color":"#ee2222","strokeWidth":1},"encoding":{"x":{"field":"med","type":"quantitative"},"y":{"datum":0,"type":"quantitative","axis":null},"y2":{"datum":5476}}}]},
{"width":106,"height":39,"data":{"name":"cells"},"transform":[{"filter":"datum.c=='SH.SY5Y.diff'"}],"layer":[{"transform":[{"filter":"datum.med"}],"mark":{"type":"rect","fill":"white","stroke":"#333","strokeWidth":1.2},"encoding":{"x":{"datum":0,"type":"quantitative","axis":{"values":[0,2.5,5,7.5,10],"format":".1f","title":null,"labelFontSize":8.5,"labelColor":"#aaa","domainColor":"#222","tickSize":2,"tickColor":"#222","labelPadding":2,"labelOverlap":false,"labelBound":false,"labelFlush":false}},"x2":{"datum":10.93},"y":{"datum":5476,"type":"quantitative","axis":null},"y2":{"datum":9286}}},{"transform":[{"filter":"datum.med"}],"mark":{"type":"text","fontSize":8.5,"color":"#666","font":"Roboto"},"encoding":{"text":{"field":"c"},"x":{"datum":5.46,"type":"quantitative"},"y":{"datum":7381,"type":"quantitative","axis":null}}},{"transform":[{"filter":"datum.n"}],"mark":{"type":"bar","color":"#595959"},"encoding":{"x":{"field":"lo","type":"quantitative","scale":{"domain":[0,10.93],"nice":false,"zero":false}},"x2":{"field":"hi"},"y":{"field":"n","type":"quantitative","scale":{"domain":[0,9286],"nice":false},"axis":null},"y2":{"datum":0}}},{"transform":[{"filter":"datum.med"}],"mark":{"type":"rule","color":"#ee2222","strokeWidth":1},"encoding":{"x":{"field":"med","type":"quantitative"},"y":{"datum":0,"type":"quantitative","axis":null},"y2":{"datum":5476}}}]},
{"width":106,"height":39,"data":{"name":"cells"},"transform":[{"filter":"datum.c=='SH.SY5Y.prog'"}],"layer":[{"transform":[{"filter":"datum.med"}],"mark":{"type":"rect","fill":"white","stroke":"#333","strokeWidth":1.2},"encoding":{"x":{"datum":0,"type":"quantitative","axis":{"values":[0,2.5,5,7.5,10],"format":".1f","title":null,"labelFontSize":8.5,"labelColor":"#aaa","domainColor":"#222","tickSize":2,"tickColor":"#222","labelPadding":2,"labelOverlap":false,"labelBound":false,"labelFlush":false}},"x2":{"datum":10.93},"y":{"datum":5476,"type":"quantitative","axis":null},"y2":{"datum":9286}}},{"transform":[{"filter":"datum.med"}],"mark":{"type":"text","fontSize":8.5,"color":"#666","font":"Roboto"},"encoding":{"text":{"field":"c"},"x":{"datum":5.46,"type":"quantitative"},"y":{"datum":7381,"type":"quantitative","axis":null}}},{"transform":[{"filter":"datum.n"}],"mark":{"type":"bar","color":"#595959"},"encoding":{"x":{"field":"lo","type":"quantitative","scale":{"domain":[0,10.93],"nice":false,"zero":false}},"x2":{"field":"hi"},"y":{"field":"n","type":"quantitative","scale":{"domain":[0,9286],"nice":false},"axis":null},"y2":{"datum":0}}},{"transform":[{"filter":"datum.med"}],"mark":{"type":"rule","color":"#ee2222","strokeWidth":1},"encoding":{"x":{"field":"med","type":"quantitative"},"y":{"datum":0,"type":"quantitative","axis":null},"y2":{"datum":5476}}}]}
],"spacing":6.2,"bounds":"flush"}
]}
],"spacing":0,"bounds":"flush"},
{"width":1,"height":100,"title":{"text":"# barcodes","orient":"bottom","anchor":"start","dx":411,"fontSize":10.5,"offset":0},"data":{"values":[{"t":""}]},"mark":"text","encoding":{"text":{"field":"t"}}},
{"width":1,"height":26,"data":{"values":[{"t":""}]},"mark":"text","encoding":{"text":{"field":"t"}}},
{"hconcat":[
{"width":10,"height":1,"title":{"text":"G","anchor":"start","dx":6,"offset":-5,"fontSize":14},"data":{"values":[{"t":""}]},"mark":"text","encoding":{"text":{"field":"t"}}},
{"width":673,"height":685,"title":{"text":"Count Correlation in MPRA RNA library by cell-type and replicate","anchor":"start","fontSize":12,"dx":36,"offset":2},
"data":{"name":"heat"},
"layer":[{"mark":{"type":"rect","strokeWidth":0.4},"encoding":{"x":{"field":"a","type":"ordinal","scale":{"domain":[0,1,2,3,4,5,6,7,8,9,10,11,12,13,14,15,16,17,18,19,20,21,22,23,24,25,26,27,28,29,30,31,32,33,34,35,36,37,38,39,40,41,42,43],"padding":0},"axis":null},"y":{"field":"b","type":"ordinal","scale":{"domain":[0,1,2,3,4,5,6,7,8,9,10,11,12,13,14,15,16,17,18,19,20,21,22,23,24,25,26,27,28,29,30,31,32,33,34,35,36,37,38,39,40,41,42,43],"padding":0},"axis":{"orient":"right","title":null,"labelFont":"DejaVu Sans","labelFontSize":13.8,"labelColor":"#222","tickSize":4.5,"tickColor":"#333","domain":false,"labelPadding":5,"labelAngle":0,"labelExpr":"['A-NPC_1','A-NPC_2','A-NPC_3','A-NPC_4','AST_1','AST_2','D283_1','D283_2','D283_3','D341_1','D341_2','D341_3','ES_1','ES_2','HEK293_1','HEK293_2','HEK293_3','IMR.diff_1','IMR.diff_2','IMR.diff_3','IMR.prog_1','IMR.prog_2','IMR.prog_3','N-D10_1','N-D10_2','N-D10_3','N-D10_4','N-D2_1','N-D2_2','N-D2_3','N-D2_4','N-D4_1','N-D4_2','N-D4_3','P-NPC_1','P-NPC_2','P-NPC_3','P-NPC_4','SH-SY5Y.diff_1','SH-SY5Y.diff_2','SH-SY5Y.diff_3','SH-SY5Y.prog_1','SH-SY5Y.prog_2','SH-SY5Y.prog_3'][+datum.value]"}},"color":{"field":"v","type":"quantitative","scale":{"domain":[0.355,1],"range":["#03051a","#35193e","#701f57","#ad1759","#e13342","#f37651","#f6b48f","#faebdd"]},"legend":{"orient":"none","legendX":768,"legendY":11,"title":null,"values":[0.4,0.6,0.8,1],"format":".1f","gradientLength":114,"gradientThickness":25,"labelFont":"DejaVu Sans","labelFontSize":10.5,"labelColor":"#333","gradientStrokeColor":"#222","gradientStrokeWidth":1,"labelOffset":9,"padding":0}},"stroke":{"field":"v","type":"quantitative","scale":{"domain":[0.355,1],"range":["#03051a","#35193e","#701f57","#ad1759","#e13342","#f37651","#f6b48f","#faebdd"]},"legend":null}}},
{"mark":{"type":"rect","strokeWidth":0.4},"encoding":{"x":{"field":"b","type":"ordinal"},"y":{"field":"a","type":"ordinal"},"color":{"field":"v","type":"quantitative"},"stroke":{"field":"v","type":"quantitative"}}}]}
],"spacing":0,"bounds":"flush"}
]}
